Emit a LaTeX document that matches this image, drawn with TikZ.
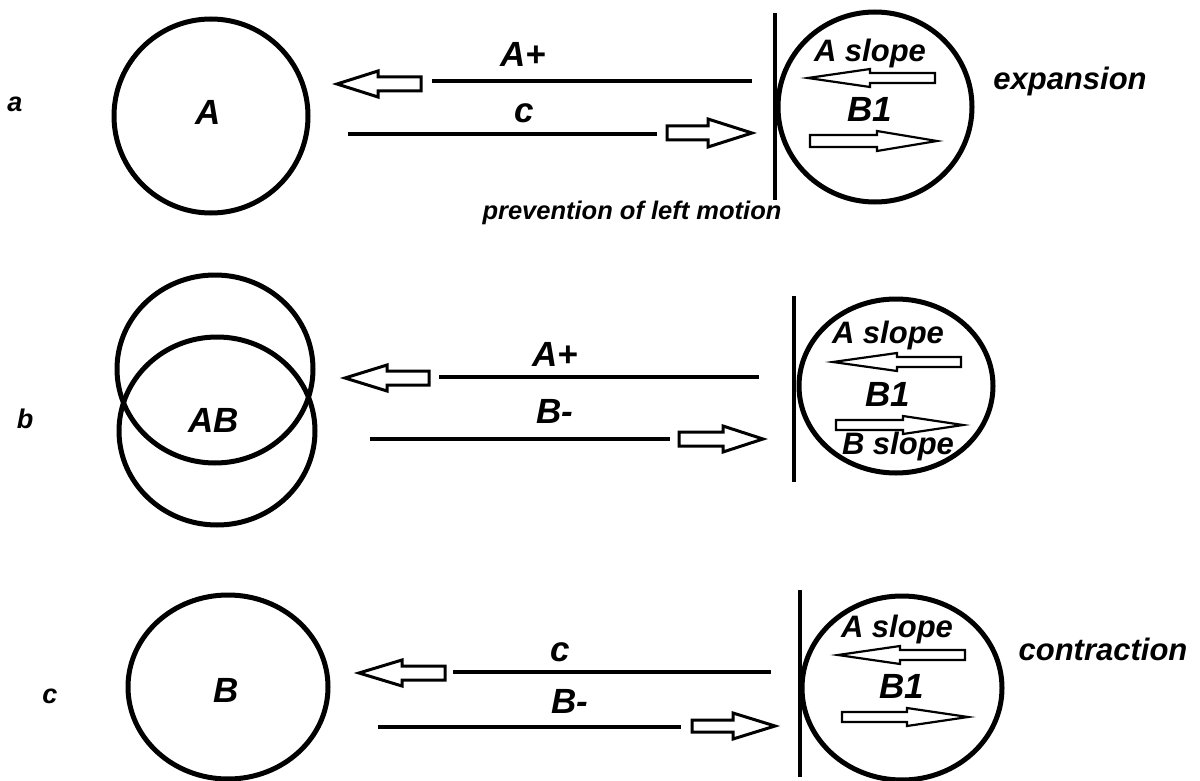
\documentclass[tikz,border=0pt]{standalone}
\usepackage{fontspec}
\setmainfont{Liberation Sans}
\begin{document}
\begin{tikzpicture}[x=1pt,y=-1pt,
  ring/.style={draw=black,line width=5pt},
  bar/.style={draw=black,line width=4pt},
  wall/.style={draw=black,line width=3.5pt},
  hollow/.style={draw=black,line width=3pt,fill=white,line join=miter},
  thinhollow/.style={draw=black,line width=2.2pt,fill=white,line join=miter},
  big/.style={font=\fontsize{31}{33}\selectfont\bfseries\itshape,inner sep=0pt,anchor=base},
  huge/.style={font=\fontsize{35}{37}\selectfont\bfseries\itshape,inner sep=0pt,anchor=base},
  lab/.style={font=\fontsize{27}{30}\selectfont\bfseries\itshape,inner sep=0pt,anchor=base},
  small/.style={font=\fontsize{25.5}{27}\selectfont\bfseries\itshape,inner sep=0pt,anchor=base}]
\useasboundingbox (0,0) rectangle (1200,781);
% #1 style, #2 tip x, #3 y, #4 head base x, #5 tail x, #6 shaft half, #7 head half
\newcommand\myarrow[7]{%
  \path[#1] (#2,#3) -- (#4,#3-#7) -- (#4,#3-#6) -- (#5,#3-#6) -- (#5,#3+#6)
     -- (#4,#3+#6) -- (#4,#3+#7) -- cycle;}
% ---------------- row a
\node[lab] (la) at (15,112) {a};
\draw[ring] (211,116) circle [radius=97];
\node[huge] (tA) at (208,125) {A};
\myarrow{hollow}{337}{84}{378}{421}{7}{13}
\draw[bar] (432,81) -- (752,81);
\node[huge] (tAp) at (523,67) {A+};
\draw[bar] (348,134) -- (657,134);
\node[huge] (tc) at (524,123) {c};
\myarrow{hollow}{752}{133}{708}{667}{7}{14}
\draw[wall] (775,13) -- (775,200);
\draw[ring] (875,107) ellipse [x radius=97, y radius=95];
\node[big] (as1) at (870,62) {A slope};
\myarrow{thinhollow}{808}{78}{870}{935}{5}{9}
\node[huge] (b11) at (870,122) {B1};
\myarrow{thinhollow}{937}{141}{877}{810}{6}{10}
\node[big] (exp) at (1070,90) {expansion};
\node[small] (prev) at (632,219) {prevention of left motion};
% ---------------- row b
\node[lab] (lb) at (25,428) {b};
\draw[ring] (215,369) ellipse [x radius=98, y radius=94];
\draw[ring] (217,431) ellipse [x radius=98, y radius=94];
\node[huge] (tAB) at (214,432) {AB};
\myarrow{hollow}{345}{378}{387}{429}{7}{13}
\draw[bar] (439,377) -- (759,377);
\node[huge] (tAp2) at (555,366) {A+};
\draw[bar] (370,439) -- (670,439);
\node[huge] (tBm) at (555,423) {B-};
\myarrow{hollow}{763}{439}{723}{679}{7}{13}
\draw[wall] (794,296) -- (794,482);
\draw[ring] (896,386) ellipse [x radius=97, y radius=87];
\node[big] (as2) at (888,343) {A slope};
\myarrow{thinhollow}{833}{362}{897}{961}{5}{9}
\node[huge] (b12) at (888,406) {B1};
\myarrow{thinhollow}{963}{425}{903}{836}{5}{9}
\node[big] (bs2) at (898,454) {B slope};
% ---------------- row c
\node[lab] (lc) at (50,703) {c};
\draw[ring] (228,687) ellipse [x radius=100, y radius=92];
\node[huge] (tB) at (226,702) {B};
\myarrow{hollow}{359}{673}{402}{445}{7}{13}
\draw[bar] (453,672) -- (771,672);
\node[huge] (tc3) at (560,661) {c};
\draw[bar] (378,727) -- (681,727);
\node[huge] (tBm3) at (570,713) {B-};
\myarrow{hollow}{775}{726}{733}{692}{6}{13}
\draw[wall] (800,590) -- (800,777);
\draw[ring] (902,688) ellipse [x radius=100, y radius=92];
\node[big] (as3) at (897,637) {A slope};
\myarrow{thinhollow}{838}{655}{900}{965}{5}{9}
\node[huge] (b13) at (902,698) {B1};
\myarrow{thinhollow}{968}{717}{907}{842}{5}{9}
\node[big] (con) at (1103,660) {contraction};
\end{tikzpicture}
\end{document}
